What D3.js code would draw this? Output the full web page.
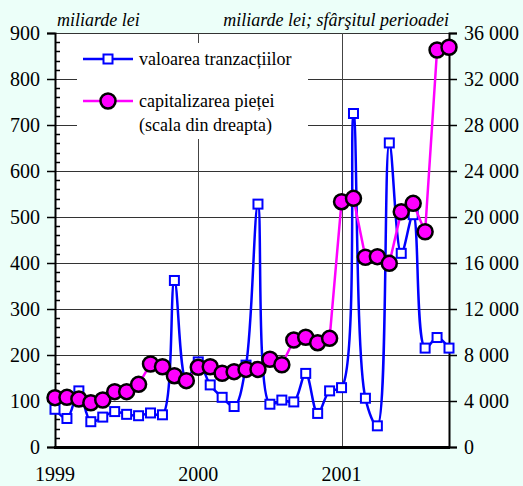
<!DOCTYPE html>
<html>
<head>
<meta charset="utf-8">
<script src="https://cdn.jsdelivr.net/npm/d3@7"></script>
<style>
  body { margin: 0; background: #ecfff9; }
  svg text { font-family: "Liberation Serif", "DejaVu Serif", serif; }
</style>
</head>
<body>
<figure style="margin:0"></figure>
<script>
// month index 0 = Jan 1999
const yearLabels = ["1999", "2000", "2001"];
const yearStarts = [0, 12, 24];

// valoarea tranzactiilor, miliarde lei (left scale)
const valoareaTranzactiilor = [
  82, 62, 122, 55, 65, 77, 71, 68, 74, 70, 362, 145,
  185, 135, 108, 88, 178, 528, 93, 102, 98, 160, 73, 122,
  129, 725, 106, 46, 661, 421, 505, 215, 238, 215
];

// capitalizarea pietei, miliarde lei (right scale)
const capitalizareaPietei = [
  4290, 4320, 4170, 3850, 4090, 4810, 4810, 5450, 7220, 6980, 6200, 5770,
  6930, 6980, 6410, 6550, 6750, 6750, 7630, 7150, 9300, 9540, 9070, 9450,
  21330, 21620, 16500, 16550, 15970, 20460, 21190, 18720, 34520, 34760
];

const leftTicks = [0, 100, 200, 300, 400, 500, 600, 700, 800, 900];
const rightTicks = [0, 4000, 8000, 12000, 16000, 20000, 24000, 28000, 32000, 36000];

const width = 523;
const height = 486;
const margin = { left: 55, right: 74, top: 33, bottom: 39 };
const serif = '"Liberation Serif", "DejaVu Serif", serif';

let canvas = d3.select("figure").append("svg")
  .attr("width", width)
  .attr("height", height);

const x = d3.scaleLinear()
  .domain([0, valoareaTranzactiilor.length - 1])
  .range([margin.left, width - margin.right]);

const yLeft = d3.scaleLinear()
  .domain([0, 900])
  .range([height - margin.bottom, margin.top]);

const yRight = d3.scaleLinear()
  .domain([0, 36000])
  .range([height - margin.bottom, margin.top]);

// plot area
canvas.append("rect")
  .attr("x", margin.left)
  .attr("y", margin.top)
  .attr("width", width - margin.left - margin.right)
  .attr("height", height - margin.top - margin.bottom)
  .attr("fill", "#fff");

// gridlines
canvas.append("g")
  .selectAll("line")
  .data(leftTicks)
  .join("line")
  .attr("x1", margin.left)
  .attr("x2", width - margin.right)
  .attr("y1", d => Math.round(yLeft(d)) + 0.5)
  .attr("y2", d => Math.round(yLeft(d)) + 0.5)
  .attr("stroke", "#333")
  .attr("stroke-width", 1);

canvas.append("g")
  .selectAll("line")
  .data(yearStarts.slice(1))
  .join("line")
  .attr("x1", d => Math.round(x(d)) + 0.5)
  .attr("x2", d => Math.round(x(d)) + 0.5)
  .attr("y1", margin.top)
  .attr("y2", height - margin.bottom)
  .attr("stroke", "#444")
  .attr("stroke-width", 1);

// legend background hides the gridlines behind it
canvas.append("rect")
  .attr("x", 77)
  .attr("y", 43)
  .attr("width", 231)
  .attr("height", 96)
  .attr("fill", "#fff");

// left axis
const leftAxis = d3.axisLeft(yLeft)
  .tickValues(leftTicks)
  .tickSize(8)
  .tickPadding(7)
  .tickFormat(d3.format("d"));

let gLeft = canvas.append("g")
  .attr("transform", `translate(${margin.left},0)`)
  .call(leftAxis)
  .attr("font-family", serif);
gLeft.select(".domain").attr("stroke-width", 2);
gLeft.selectAll(".tick line").attr("stroke-width", 1.5);
gLeft.selectAll("text").attr("font-size", 20).attr("fill", "#000");

// minor ticks inside
canvas.append("g")
  .selectAll("line")
  .data(d3.range(0, 901, 20).filter(d => d % 100 !== 0))
  .join("line")
  .attr("x1", margin.left)
  .attr("x2", margin.left + 5)
  .attr("y1", d => Math.round(yLeft(d)) + 0.5)
  .attr("y2", d => Math.round(yLeft(d)) + 0.5)
  .attr("stroke", "#000")
  .attr("stroke-width", 1.5);

// right axis
const rightAxis = d3.axisRight(yRight)
  .tickValues(rightTicks)
  .tickSize(8)
  .tickPadding(7)
  .tickFormat(d => d3.format(",")(d).replace(/,/g, " "));

let gRight = canvas.append("g")
  .attr("transform", `translate(${width - margin.right},0)`)
  .call(rightAxis)
  .attr("font-family", serif);
gRight.select(".domain").attr("stroke-width", 2);
gRight.selectAll(".tick line").attr("stroke-width", 1.5);
gRight.selectAll("text").attr("font-size", 20).attr("fill", "#000");

// bottom axis
canvas.append("line")
  .attr("x1", margin.left - 1)
  .attr("x2", width - margin.right + 1)
  .attr("y1", height - margin.bottom + 0.5)
  .attr("y2", height - margin.bottom + 0.5)
  .attr("stroke", "#000")
  .attr("stroke-width", 3);

canvas.append("g")
  .selectAll("text")
  .data(yearStarts)
  .join("text")
  .attr("x", d => x(d))
  .attr("y", height - 5)
  .attr("text-anchor", "middle")
  .attr("font-size", 20)
  .text((_, i) => yearLabels[i]);

// unit labels
canvas.append("text")
  .attr("x", 57)
  .attr("y", 26)
  .attr("font-size", 18)
  .attr("font-style", "italic")
  .text("miliarde lei");

canvas.append("text")
  .attr("x", 449)
  .attr("y", 26)
  .attr("text-anchor", "end")
  .attr("font-size", 18)
  .attr("font-style", "italic")
  .text("miliarde lei; sfârşitul perioadei");

// valoarea tranzactiilor
const blueLine = d3.line()
  .x((_, i) => x(i))
  .y(d => yLeft(d))
  .curve(d3.curveCatmullRom);

canvas.append("path")
  .datum(valoareaTranzactiilor)
  .attr("d", blueLine)
  .attr("fill", "none")
  .attr("stroke", "#0000ff")
  .attr("stroke-width", 2.5);

canvas.append("g")
  .selectAll("rect")
  .data(valoareaTranzactiilor)
  .join("rect")
  .attr("x", (_, i) => x(i) - 4.5)
  .attr("y", d => yLeft(d) - 4.5)
  .attr("width", 9)
  .attr("height", 9)
  .attr("fill", "#fff")
  .attr("stroke", "#0000ff")
  .attr("stroke-width", 2);

// capitalizarea pietei
const pinkLine = d3.line()
  .x((_, i) => x(i))
  .y(d => yRight(d));

canvas.append("path")
  .datum(capitalizareaPietei)
  .attr("d", pinkLine)
  .attr("fill", "none")
  .attr("stroke", "#ff00ff")
  .attr("stroke-width", 2.5);

canvas.append("g")
  .selectAll("circle")
  .data(capitalizareaPietei)
  .join("circle")
  .attr("cx", (_, i) => x(i))
  .attr("cy", d => yRight(d))
  .attr("r", 7.5)
  .attr("fill", "#ff00ff")
  .attr("stroke", "#000")
  .attr("stroke-width", 2.5);

// legend
function legendItem(y, color, marker, lines) {
  canvas.append("line")
    .attr("x1", 83)
    .attr("x2", 133)
    .attr("y1", y)
    .attr("y2", y)
    .attr("stroke", color)
    .attr("stroke-width", 2.5);
  if (marker === "square") {
    canvas.append("rect")
      .attr("x", 108 - 4.5)
      .attr("y", y - 4.5)
      .attr("width", 9)
      .attr("height", 9)
      .attr("fill", "#fff")
      .attr("stroke", color)
      .attr("stroke-width", 2);
  } else {
    canvas.append("circle")
      .attr("cx", 108)
      .attr("cy", y)
      .attr("r", 7.5)
      .attr("fill", color)
      .attr("stroke", "#000")
      .attr("stroke-width", 2.5);
  }
  lines.forEach((t, k) => {
    canvas.append("text")
      .attr("x", 139)
      .attr("y", y + 6 + k * 24)
      .attr("font-size", 18)
      .text(t);
  });
}
legendItem(59, "#0000ff", "square", ["valoarea tranzacțiilor"]);
legendItem(101, "#ff00ff", "circle", ["capitalizarea pieței", "(scala din dreapta)"]);
</script>
</body>
</html>
